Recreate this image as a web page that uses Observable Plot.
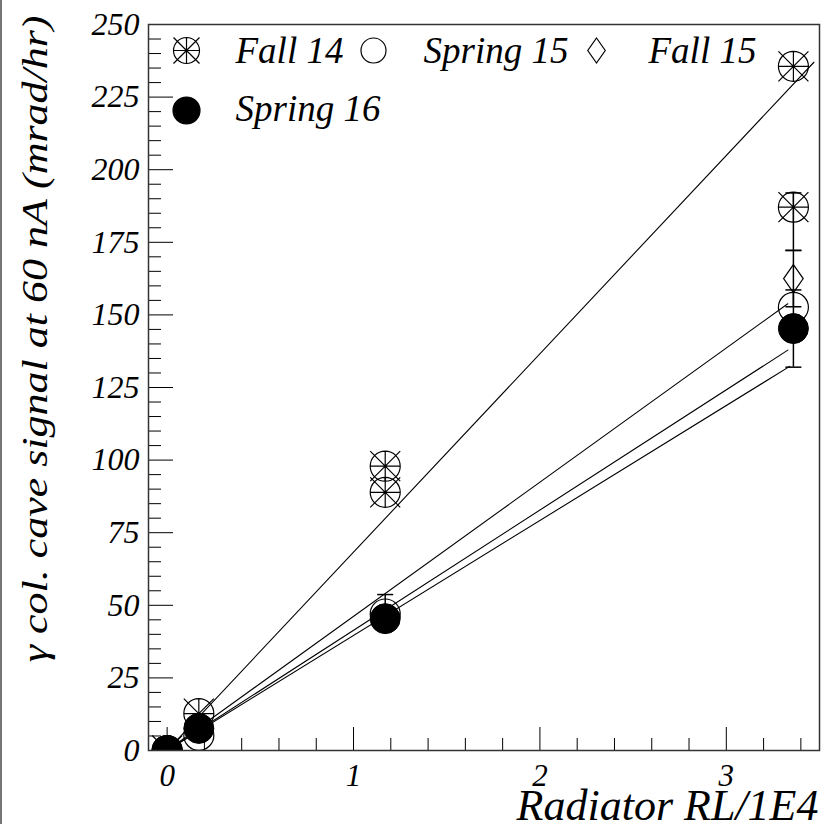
<!DOCTYPE html>
<html>
<head>
<meta charset="utf-8">
<script src="https://cdn.jsdelivr.net/npm/d3@7"></script>
<script src="https://cdn.jsdelivr.net/npm/@observablehq/plot@0.6"></script>
<style>
  body { margin: 0; padding: 0; background: white; }
  #wrap { position: relative; width: 825px; height: 824px; }
  #edge { position: absolute; left: 0; top: 0; width: 2px; height: 824px; background: #777; }
</style>
</head>
<body>
<div id="wrap"><div id="edge"></div></div>
<script>
// ---------- data ----------
const seriesNames = ["Fall 14", "Spring 15", "Fall 15", "Spring 16"];

const fall14X   = [0, 0.17, 1.17, 1.17, 3.36, 3.36];
const fall14Y   = [0, 12.7, 97.9, 88.9, 235.6, 187.1];
const spring15X = [0, 0.17, 1.17, 3.36];
const spring15Y = [0, 5.2, 47.0, 152.6];
const fall15X   = [0, 3.36];
const fall15Y   = [0, 162.5];
const spring16X = [0, 0.17, 1.17, 3.36];
const spring16Y = [0, 7.6, 45.4, 145.3];

// error bars
const errX    = [1.17, 3.36, 3.36, 3.36];
const errLow  = [41.5, 172.2, 152.8, 132.0];
const errHigh = [53.7, 192.0, 172.2, 158.6];

// fitted straight lines through the origin
const fitSeries = ["Fall 14", "Fall 15", "Spring 15", "Spring 16"];
const fitSlope  = [68.3, 46.2, 41.4, 39.6];
const fitXEnd   = [3.47, 3.33, 3.33, 3.34];

// axis ticks
const xMajor = [0, 1, 2, 3];
const xMinor = [0.2, 0.4, 0.6, 0.8, 1.2, 1.4, 1.6, 1.8, 2.2, 2.4, 2.6, 2.8, 3.2, 3.4];
const yMajor = [0, 25, 50, 75, 100, 125, 150, 175, 200, 225, 250];
const yMinor = d3.range(0, 251, 5).filter(v => v % 25 !== 0);

const xTitle = "Radiator RL/1E4";
const yTitle = "\u03B3 col. cave signal at 60 nA (mrad/hr)";

// ---------- layout ----------
const W = 825, H = 824;
const mL = 148, mT = 24, mR = 6, mB = 74;
const innerW = W - mL - mR, innerH = H - mT - mB;
const FONT = "Liberation Serif";

// ---------- symbols ----------
const rad = size => Math.sqrt(size / Math.PI);
const starCircle = { draw(ctx, size) { const r = rad(size);
  ctx.moveTo(r, 0); ctx.arc(0, 0, r, 0, 2 * Math.PI);
  ctx.moveTo(-r, 0); ctx.lineTo(r, 0); ctx.moveTo(0, -r); ctx.lineTo(0, r);
  ctx.moveTo(-r, -r); ctx.lineTo(r, r); ctx.moveTo(-r, r); ctx.lineTo(r, -r); } };
const diamond = { draw(ctx, size) { const r = rad(size), w = 0.7 * r;
  ctx.moveTo(0, -r); ctx.lineTo(w, 0); ctx.lineTo(0, r); ctx.lineTo(-w, 0); ctx.closePath(); } };
const hbar = { draw(ctx, size) { const r = rad(size); ctx.moveTo(-r, 0); ctx.lineTo(r, 0); } };

const pts = (xs, ys, name) => xs.map((x, i) => ({x, y: ys[i], series: name}));
const fall14 = pts(fall14X, fall14Y, "Fall 14");
const spring15 = pts(spring15X, spring15Y, "Spring 15");
const fall15 = pts(fall15X, fall15Y, "Fall 15");
const spring16 = pts(spring16X, spring16Y, "Spring 16");

const fitRows = fitSeries.flatMap((s, i) => [
  {series: s, x: 0, y: 0},
  {series: s, x: fitXEnd[i], y: fitSlope[i] * fitXEnd[i]}
]);
const errRows = errX.map((x, i) => ({x, lo: errLow[i], hi: errHigh[i]}));
const capRows = errRows.flatMap(d => [{x: d.x, y: d.lo}, {x: d.x, y: d.hi}]);

// legend layout (offsets from the frame's top-left corner)
const legendStyle = [
  {symbol: starCircle, fill: "none", r: 13, mdx: 38, mdy: 26, tdx: 87, tdy: 27},
  {symbol: "circle", fill: "none", r: 12.5, mdx: 225, mdy: 26, tdx: 275, tdy: 27},
  {symbol: diamond, fill: "none", r: 12.5, mdx: 448, mdy: 26, tdx: 500, tdy: 27},
  {symbol: "circle", fill: "black", r: 13.5, mdx: 38, mdy: 86, tdx: 87, tdy: 85}
];
const legendMarks = seriesNames.flatMap((name, i) => {
  const s = legendStyle[i];
  return [
    Plot.dot([name], {x: null, y: null, frameAnchor: "top-left", dx: s.mdx, dy: s.mdy,
      symbol: s.symbol, r: s.r, fill: s.fill, stroke: "black", strokeWidth: 1.2}),
    Plot.text([name], {text: d => d, frameAnchor: "top-left", lineAnchor: "middle", dx: s.tdx, dy: s.tdy,
      textAnchor: "start", fontSize: 37, fontStyle: "italic", fontFamily: FONT, fill: "black"})
  ];
});

const plot = Plot.plot({
  width: W, height: H,
  marginLeft: mL, marginTop: mT, marginRight: mR, marginBottom: mB,
  style: {fontFamily: FONT, background: "white"},
  x: {domain: [-0.1, 3.5]},
  y: {domain: [0, 250]},
  marks: [
    // inward ticks
    Plot.ruleY(yMinor, {y: d => d, insetRight: innerW - 13, stroke: "black", strokeWidth: 1}),
    Plot.ruleY(yMajor, {y: d => d, insetRight: innerW - 25, stroke: "black", strokeWidth: 1}),
    Plot.ruleX(xMinor, {x: d => d, insetTop: innerH - 12, stroke: "black", strokeWidth: 1}),
    Plot.ruleX(xMajor, {x: d => d, insetTop: innerH - 23, stroke: "black", strokeWidth: 1}),
    Plot.axisY(yMajor, {tickSize: 0, tickPadding: 9, tickFormat: d => String(d), fontSize: 32,
      fontStyle: "italic", fontFamily: FONT, label: null, fill: "black"}),
    Plot.axisX(xMajor, {tickSize: 0, tickPadding: 13, tickFormat: d => String(d), fontSize: 31,
      fontStyle: "italic", fontFamily: FONT, label: null, fill: "black"}),
    // fits
    Plot.line(fitRows, {x: "x", y: "y", z: "series", stroke: "black", strokeWidth: 1.1, clip: true}),
    // error bars
    Plot.ruleX(errRows, {x: "x", y1: "lo", y2: "hi", stroke: "black", strokeWidth: 1.5}),
    Plot.dot(capRows, {x: "x", y: "y", symbol: hbar, r: 8, stroke: "black", strokeWidth: 1.5}),
    // markers
    Plot.dot(fall14, {x: "x", y: "y", symbol: starCircle, r: 15, fill: "none", stroke: "black", strokeWidth: 1.2, clip: true}),
    Plot.dot(spring15, {x: "x", y: "y", symbol: "circle", r: 15, fill: "none", stroke: "black", strokeWidth: 1.2, clip: true}),
    Plot.dot(fall15, {x: "x", y: "y", symbol: diamond, r: 14, fill: "none", stroke: "black", strokeWidth: 1.2, clip: true}),
    Plot.dot(spring16, {x: "x", y: "y", symbol: "circle", r: 15, fill: "black", stroke: "black", strokeWidth: 1, clip: true}),
    ...legendMarks,
    // titles
    Plot.text([xTitle], {text: d => d, frameAnchor: "bottom-right", lineAnchor: "middle", textAnchor: "end", dx: -1, dy: 55,
      fontSize: 44, fontStyle: "italic", fontFamily: FONT, fill: "black"}),
    Plot.text([yTitle], {text: d => d, frameAnchor: "top-left", lineAnchor: "middle", rotate: -90, textAnchor: "end", dx: -113, dy: -9,
      fontSize: 44, fontStyle: "italic", fontFamily: FONT, fill: "black"}),
    Plot.frame({stroke: "#333", strokeWidth: 1.5})
  ]
});

document.getElementById("wrap").prepend(plot);

// enforce the serif italic face on every label
d3.select(plot).selectAll("text").each(function () {
  this.style.setProperty("font-family", FONT, "important");
  this.style.setProperty("font-style", "italic", "important");
});
// condense the rotated y title to match the narrow glyphs of the original
d3.select(plot).selectAll("text").filter(function () { return this.textContent === yTitle; })
  .attr("transform", function () { return (this.getAttribute("transform") || "") + " scale(1,0.8)"; });
</script>
</body>
</html>
